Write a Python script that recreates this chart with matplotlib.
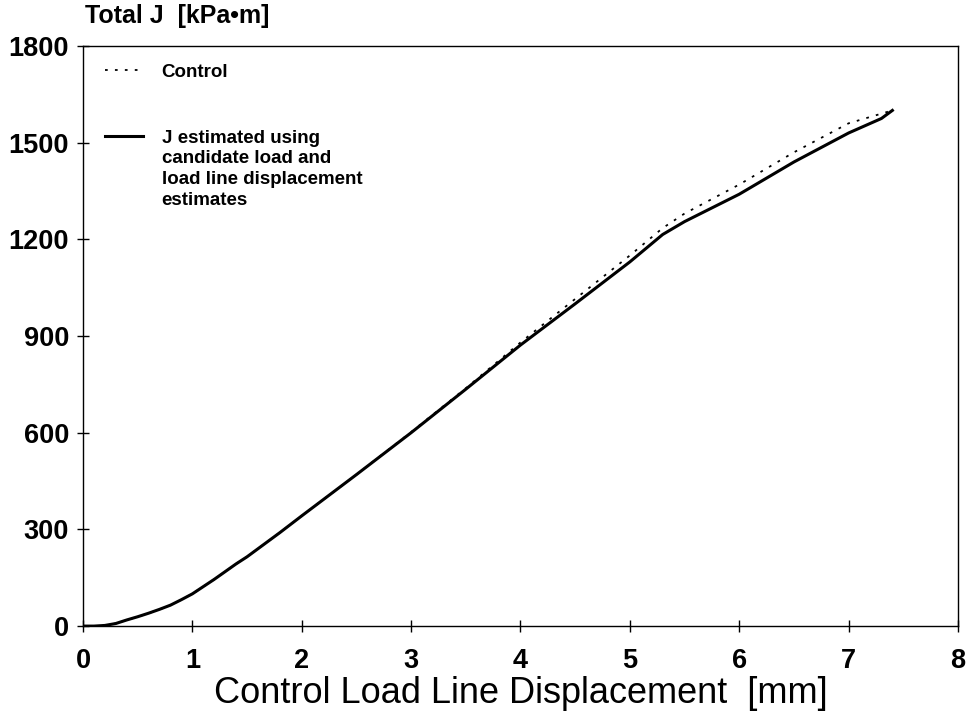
import numpy as np
import matplotlib
matplotlib.use('Agg')
import matplotlib.pyplot as plt

disp_est = [0, 0.1, 0.2, 0.3, 0.4, 0.5, 0.6, 0.7, 0.8, 0.9, 1.0, 1.2, 1.4, 1.5, 1.6, 1.8,
            2.0, 2.5, 3.0, 3.5, 4.0, 4.5, 5.0, 5.3, 5.5, 6.0, 6.5, 7.0, 7.3, 7.4]
j_est = [0, 0, 2, 8, 19, 29, 40, 52, 65, 82, 100, 145, 193, 215, 240, 290,
         342, 470, 600, 735, 872, 1000, 1130, 1215, 1255, 1340, 1440, 1530, 1575, 1600]

disp_ctrl = [0, 0.1, 0.2, 0.3, 0.4, 0.5, 0.6, 0.7, 0.8, 0.9, 1.0, 1.2, 1.4, 1.5, 1.6, 1.8,
             2.0, 2.5, 3.0, 3.5, 4.0, 4.5, 5.0, 5.3, 5.5, 6.0, 6.5, 7.0, 7.3, 7.4]
j_ctrl = [0, 0, 2, 8, 19, 29, 40, 52, 65, 82, 100, 145, 193, 215, 240, 290,
          342, 470, 602, 738, 880, 1015, 1150, 1235, 1280, 1370, 1470, 1560, 1590, 1600]

x_ticks = [0, 1, 2, 3, 4, 5, 6, 7, 8]
y_ticks = [0, 300, 600, 900, 1200, 1500, 1800]

legend_labels = ['Control', 'J estimated using']
legend_extra = 'candidate load and\nload line displacement\nestimates'

plt.rcParams['font.family'] = ['Liberation Sans', 'DejaVu Sans']

fig = plt.figure(figsize=(9.67, 7.18), dpi=100)
ax = fig.add_axes([0.0858, 0.128, 0.9049, 0.808])

ax.plot(disp_ctrl, j_ctrl, color='black', linestyle=(0, (1.5, 4)), linewidth=1.3, label=legend_labels[0])
ax.plot(disp_est, j_est, color='black', linestyle='-', linewidth=2.2, label=legend_labels[1])

ax.set_xlim(0, 8)
ax.set_ylim(0, 1800)
ax.set_xticks(x_ticks)
ax.set_yticks(y_ticks)
ax.tick_params(direction='inout', length=8, width=1, labelsize=19.5)
ax.tick_params(axis='x', pad=12)
ax.tick_params(axis='y', pad=6)
for lab in ax.get_xticklabels() + ax.get_yticklabels():
    lab.set_fontweight('bold')
for s in ax.spines.values():
    s.set_linewidth(1.0)

ax.set_xlabel('Control Load Line Displacement  [mm]', fontsize=26, labelpad=1)
fig.text(0.088, 0.978, 'Total J  [kPa\u2022m]', fontsize=18, fontweight='bold', va='center', ha='left')

leg = ax.legend(loc='upper left', bbox_to_anchor=(0.0, 1.008), frameon=False,
                prop={'size': 13.5, 'weight': 'bold'}, handlelength=2.0, labelspacing=2.6,
                handletextpad=1.0, borderaxespad=0.8)

# rest of the second legend entry, hanging under its first line
fig.canvas.draw()
bb = leg.get_texts()[1].get_window_extent()
x0, y0 = ax.transAxes.inverted().transform((bb.x0, bb.y0))
ax.text(x0, y0 - 0.006, legend_extra, transform=ax.transAxes, fontsize=13.5, fontweight='bold',
        va='top', ha='left', linespacing=1.3)

fig.savefig('out.png', dpi=100)
